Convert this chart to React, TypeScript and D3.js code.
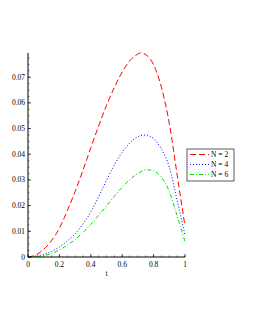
import * as d3 from "d3";

const tValues = [0, 0.05, 0.1, 0.15, 0.2, 0.25, 0.3, 0.35, 0.4, 0.45, 0.5, 0.55, 0.6, 0.65, 0.7, 0.72, 0.75, 0.8, 0.85, 0.9, 0.95, 1];
const n2 = [0, 0.0008, 0.003, 0.0064, 0.0112, 0.018, 0.0255, 0.0338, 0.0425, 0.051, 0.059, 0.066, 0.072, 0.0765, 0.079, 0.0795, 0.0788, 0.0748, 0.066, 0.052, 0.032, 0.012];
const n4 = [0, 0.0003, 0.001, 0.0022, 0.0039, 0.0062, 0.009, 0.0128, 0.0175, 0.0235, 0.0298, 0.0358, 0.0408, 0.0445, 0.0468, 0.0473, 0.0475, 0.046, 0.042, 0.035, 0.022, 0.0085];
const n6 = [0, 0.0001, 0.0005, 0.0014, 0.0028, 0.0046, 0.0068, 0.0095, 0.0127, 0.0162, 0.0199, 0.0237, 0.0272, 0.0302, 0.0325, 0.0332, 0.034, 0.0335, 0.031, 0.0255, 0.016, 0.006];

const seriesNames = ["N = 2", "N = 4", "N = 6"];
const seriesColors = ["#ff0000", "#0000ff", "#00e000"];
const seriesDash = ["6,3", "1,2", "4,2,1,2"];
const xTicks = [0, 0.2, 0.4, 0.6, 0.8, 1];
const yTicks = [0, 0.01, 0.02, 0.03, 0.04, 0.05, 0.06, 0.07];

const width = 255;
const height = 330;
const margin = { left: 28, right: 70, top: 53, bottom: 73 };

const App = () => {
  const x = d3.scaleLinear().domain([0, 1]).range([margin.left, width - margin.right]);
  const y = d3.scaleLinear().domain([0, 0.0794]).range([height - margin.bottom, margin.top]);
  const line = d3
    .line<number>()
    .x((_, i) => x(tValues[i]))
    .y((d) => y(d))
    .curve(d3.curveMonotoneX);

  const series = [n2, n4, n6];
  const font = "'Liberation Serif', 'DejaVu Serif', serif";
  const x0 = x(0);
  const y0 = y(0);
  const xMinor = d3.range(0, 1.0001, 0.05);
  const yMinor = d3.range(0, 0.0791, 0.0025);

  const lx = 187;
  const ly = 149;

  return (
    <svg
      width={width}
      height={height}
      style={{ position: "fixed", left: 0, top: 0, background: "#fff", fontFamily: font }}
    >
      {series.map((s, i) => (
        <path
          key={i}
          d={line(s) ?? undefined}
          fill="none"
          stroke={seriesColors[i]}
          strokeWidth={1}
          strokeDasharray={seriesDash[i]}
        />
      ))}

      {/* axes */}
      <line x1={x0} x2={x0} y1={margin.top} y2={y0} stroke="#000" strokeWidth={1} />
      <line x1={x0} x2={x(1)} y1={y0} y2={y0} stroke="#000" strokeWidth={1} />

      {xMinor.map((t, i) => (
        <line key={"xm" + i} x1={x(t)} x2={x(t)} y1={y0} y2={y0 - 1.5} stroke="#000" strokeWidth={0.5} />
      ))}
      {yMinor.map((v, i) => (
        <line key={"ym" + i} x1={x0} x2={x0 + 1.5} y1={y(v)} y2={y(v)} stroke="#000" strokeWidth={0.5} />
      ))}
      {xTicks.map((t) => (
        <g key={"xt" + t}>
          <line x1={x(t)} x2={x(t)} y1={y0} y2={y0 - 3} stroke="#000" strokeWidth={0.7} />
          <text x={x(t)} y={y0 + 10} fontSize={7.5} textAnchor="middle">
            {t === 0 || t === 1 ? String(t) : t.toFixed(1)}
          </text>
        </g>
      ))}
      {yTicks.map((v) => (
        <g key={"yt" + v}>
          <line x1={x0} x2={x0 + 3} y1={y(v)} y2={y(v)} stroke="#000" strokeWidth={0.7} />
          <text x={x0 - 3} y={y(v) + 2.5} fontSize={7.5} textAnchor="end">
            {v === 0 ? "0" : v.toFixed(2)}
          </text>
        </g>
      ))}
      <text x={x(0.5)} y={y0 + 19} fontSize={7.5} textAnchor="middle">
        t
      </text>

      {/* legend */}
      <rect x={lx} y={ly} width={47} height={32} fill="#fff" stroke="#333" strokeWidth={0.8} />
      {seriesNames.map((name, i) => (
        <g key={name}>
          <line
            x1={lx + 3}
            x2={lx + 22}
            y1={ly + 5.5 + i * 10}
            y2={ly + 5.5 + i * 10}
            stroke={seriesColors[i]}
            strokeWidth={1}
            strokeDasharray={seriesDash[i]}
          />
          <text x={lx + 24} y={ly + 8 + i * 10} fontSize={7.5}>
            {name}
          </text>
        </g>
      ))}
    </svg>
  );
};

export default App;
